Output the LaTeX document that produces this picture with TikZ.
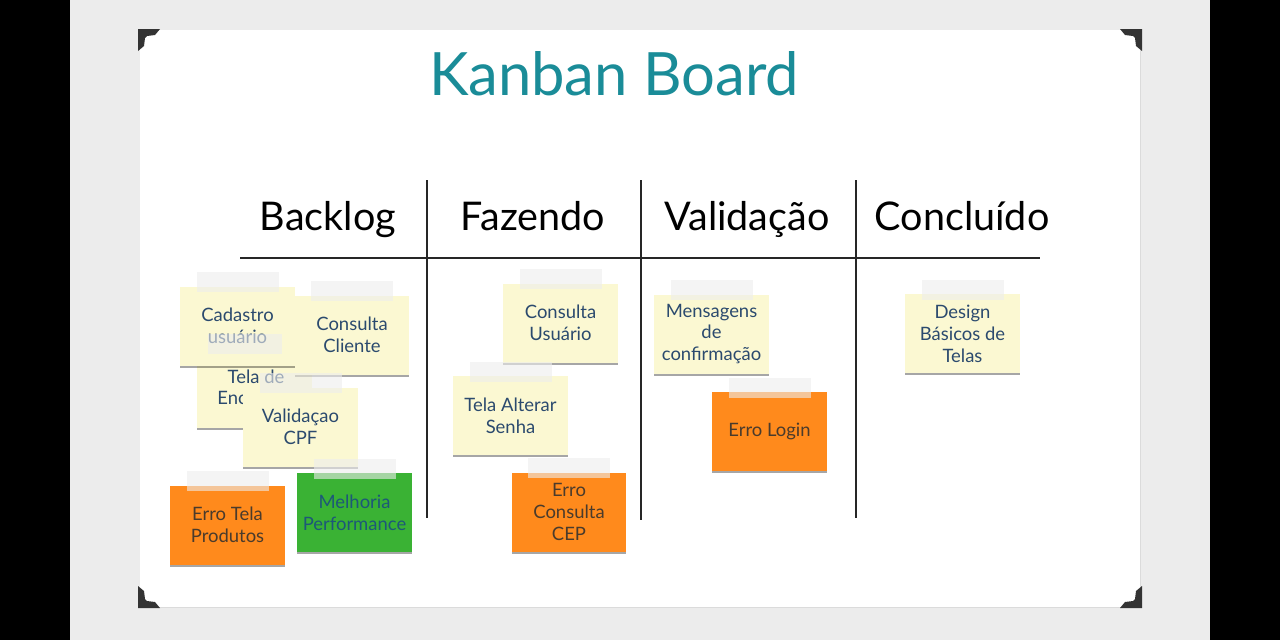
\documentclass[tikz,border=0pt]{standalone}
\usepackage{fontspec}
\setmainfont{Lato}
\usetikzlibrary{calc,shadows}
\definecolor{bggray}{HTML}{ECECEC}
\definecolor{notey}{HTML}{FBF8D2}
\definecolor{noteo}{HTML}{FF8A1C}
\definecolor{noteg}{HTML}{3AB234}
\definecolor{inkb}{HTML}{2B4A6E}
\definecolor{inko}{HTML}{4A3B2C}
\definecolor{inkg}{HTML}{1D5878}
\definecolor{titleteal}{HTML}{1A8C98}
\newcommand\tapeon[1]{\fill[tape] ($(#1.north)+(-41,-14)$) rectangle ($(#1.north)+(41,6)$);}
\tikzset{
  note/.style={minimum width=2.3cm, minimum height=1.58cm, inner sep=0pt, align=center,
    font=\fontsize{10.5}{12.5}\selectfont,
    drop shadow={shadow xshift=0pt, shadow yshift=-1.4pt, opacity=0.35, fill=black}},
  ynote/.style={note, fill=notey, text=inkb},
  onote/.style={note, fill=noteo, text=inko},
  gnote/.style={note, fill=noteg, text=inkg},
  ink/.style={text=inkb, font=\fontsize{10.5}{12.5}\selectfont, inner sep=0pt},
  tape/.style={fill=black!7, fill opacity=0.6},
  header/.style={font=\fontsize{22.5}{26}\selectfont, text=black, anchor=base},
  hrule/.style={line width=1.5pt, black!85},
  vrule/.style={line width=1.1pt, black!85},
  corner/.pic={\fill[black!80] (0,0) -- (22,0) -- (17,6) -- (9,7) -- (7,9) -- (6,17) -- (0,22) -- cycle;},
}
\begin{document}
\begin{tikzpicture}[x=0.02cm,y=-0.02cm]
\useasboundingbox (0,0) rectangle (1280,640);
% frame
\fill[black] (0,0) rectangle (1280,640);
\fill[bggray] (70,0) rectangle (1210,640);
\fill[white, drop shadow={shadow xshift=0.6pt, shadow yshift=-0.6pt, opacity=0.15}] (140,30) rectangle (1140,607);
\pic at (138,29) {corner};
\pic[xscale=-1] at (1142,29) {corner};
\pic[yscale=-1] at (138,608) {corner};
\pic[xscale=-1,yscale=-1] at (1142,608) {corner};
% title
\node[text=titleteal, font=\fontsize{34}{40}\selectfont, anchor=base] (title) at (614,95) {Kanban Board};
% headers
\node[header] (hb) at (328,230) {Backlog};
\node[header] (hf) at (533,230) {Fazendo};
\node[header] (hv) at (747,230) {Validação};
\node[header] (hc) at (962,230) {Concluído};
% rules
\coordinate (h1) at (240,258); \coordinate (h2) at (1040,258);
\coordinate (v1a) at (427,180); \coordinate (v1b) at (427,518);
\coordinate (v2a) at (641,180); \coordinate (v2b) at (641,520);
\coordinate (v3a) at (856,180); \coordinate (v3b) at (856,518);
\draw[vrule] (v1a) -- (v1b);
\draw[vrule] (v2a) -- (v2b);
\draw[vrule] (v3a) -- (v3b);
\draw[hrule] (h1) -- (h2);
% Backlog
\node[ynote] (teld) at (254.5,388) {};
\node[ink] (teldt1) at (256,377) {Tela de};
\node[ink, anchor=west] (teldt2) at (217,398) {Enc};
\node[ynote] (cad) at (237.5,326) {Cadastro\\usuário};
\tapeon{cad}
\node[ynote] (ccli) at (352,335) {Consulta\\Cliente};
\tapeon{ccli}
\fill[tape] ($(teld.north)+(-47,-14)$) rectangle ($(teld.north)+(27,6)$);
\node[ynote] (vcpf) at (300.5,427) {Validaçao\\CPF};
\tapeon{vcpf}
\node[onote] (etp) at (227.5,525) {Erro Tela\\Produtos};
\tapeon{etp}
\node[gnote] (mperf) at (354.5,512.5) {Melhoria\\Performance};
\tapeon{mperf}
% Fazendo
\node[ynote] (cusu) at (560.5,323) {Consulta\\Usuário};
\tapeon{cusu}
\node[ynote] (talt) at (510.5,415.5) {Tela Alterar\\Senha};
\tapeon{talt}
\node[onote] (ecep) at (569,512) {Erro\\Consulta\\CEP};
\tapeon{ecep}
% Validacao
\node[ynote] (msg) at (711.5,334) {Mensagens\\de\\confirmação};
\tapeon{msg}
\node[onote] (elog) at (769.5,431.5) {Erro Login};
\tapeon{elog}
% Concluido
\node[ynote] (des) at (962.5,333.5) {Design\\Básicos de\\Telas};
\tapeon{des}
\end{tikzpicture}
\end{document}
